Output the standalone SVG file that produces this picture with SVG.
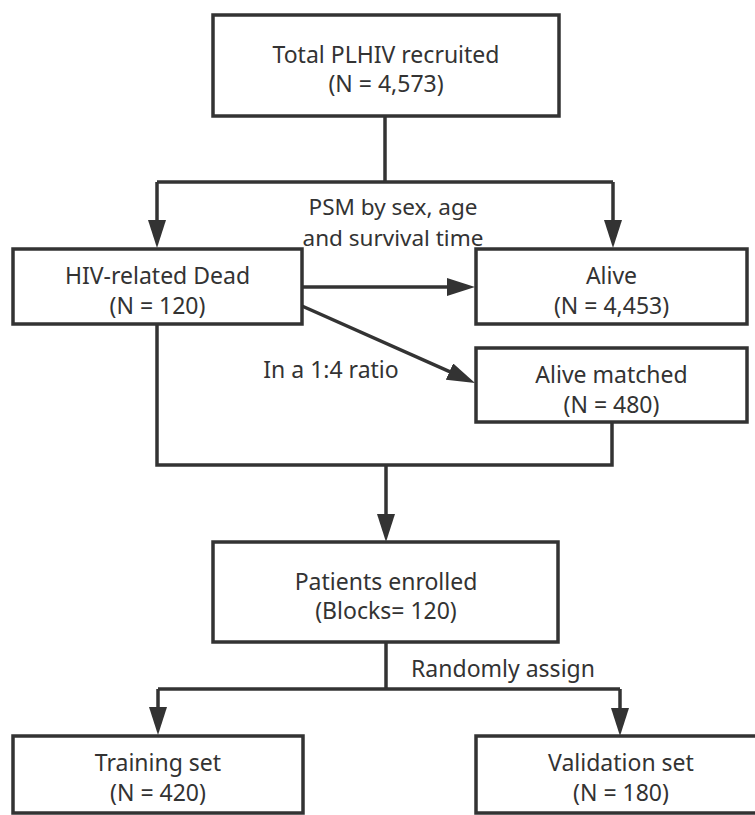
<svg xmlns="http://www.w3.org/2000/svg" width="755" height="815" viewBox="0 0 755 815">
<style>
.box{fill:#fff;stroke:#333;stroke-width:3.5}
.ln{fill:none;stroke:#333;stroke-width:3.5}
text{font-family:"Noto Sans","Liberation Sans",sans-serif;font-size:23px;fill:#333;text-anchor:middle}
text.lbl{font-size:22.5px}
</style>
<defs>
<marker id="arr" markerUnits="userSpaceOnUse" markerWidth="28" markerHeight="18" refX="18" refY="9" orient="auto">
<path d="M0,0 L28,9 L0,18 Z" fill="#333"/>
</marker>
</defs>
<rect width="755" height="815" fill="#fff"/>
<g id="connectors">
<path class="ln" d="M385,116 V182"/>
<path class="ln" d="M157,182 H613"/>
<path class="ln" d="M157,182 V238" marker-end="url(#arr)"/>
<path class="ln" d="M613,182 V238" marker-end="url(#arr)"/>
<path class="ln" d="M302,287 H465" marker-end="url(#arr)"/>
<path class="ln" d="M302,306 L465.9,378.9" marker-end="url(#arr)"/>
<path class="ln" d="M157,324 V465 H612 V422"/>
<path class="ln" d="M386,465 V532" marker-end="url(#arr)"/>
<path class="ln" d="M386,642 V689"/>
<path class="ln" d="M158,689 H620"/>
<path class="ln" d="M158,689 V725" marker-end="url(#arr)"/>
<path class="ln" d="M620,689 V726" marker-end="url(#arr)"/>
<text class="lbl" x="393" y="215">PSM by sex, age</text>
<text class="lbl" x="393" y="246">and survival time</text>
<text x="331" y="378">In a 1:4 ratio</text>
<text x="503" y="677">Randomly assign</text>
</g>
<g id="total">
<rect class="box" x="213" y="15" width="346" height="101"/>
<text x="386" y="63">Total PLHIV recruited</text>
<text x="386" y="92">(N = 4,573)</text>
</g>
<g id="dead">
<rect class="box" x="13" y="249" width="289" height="75"/>
<text x="157.5" y="284">HIV-related Dead</text>
<text x="157.5" y="314">(N = 120)</text>
</g>
<g id="alive">
<rect class="box" x="476" y="249" width="271" height="75"/>
<text x="611.5" y="284">Alive</text>
<text x="611.5" y="314">(N = 4,453)</text>
</g>
<g id="matched">
<rect class="box" x="476" y="348" width="271" height="74"/>
<text x="611.5" y="383">Alive matched</text>
<text x="611.5" y="413">(N = 480)</text>
</g>
<g id="patients">
<rect class="box" x="213" y="542" width="345" height="100"/>
<text x="386" y="590">Patients enrolled</text>
<text x="386" y="619">(Blocks= 120)</text>
</g>
<g id="training">
<rect class="box" x="13" y="736" width="290" height="77"/>
<text x="158" y="771">Training set</text>
<text x="158" y="801">(N = 420)</text>
</g>
<g id="validation">
<rect class="box" x="476" y="736" width="290" height="77"/>
<text x="621" y="771">Validation set</text>
<text x="621" y="801">(N = 180)</text>
</g>
</svg>
